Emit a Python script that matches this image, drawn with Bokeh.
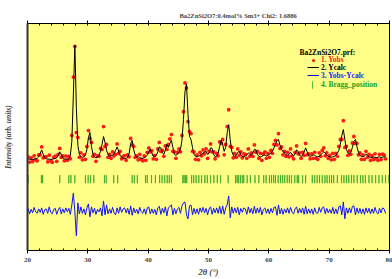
import numpy as np
from bokeh.plotting import figure
from bokeh.models import (Range1d, LinearAxis, FixedTicker, Label, Legend,
                          LegendItem, ColumnDataSource)
from bokeh.embed import file_html
from bokeh.resources import INLINE

# ---------------- data ----------------
two_theta_start = 20.10
two_theta_step = 0.25

y_calc = [
    100, 102, 100, 98,      # 20
    100, 105, 110, 125,     # 21
    160, 195, 150, 115,     # 22
    105, 100, 102, 100,     # 23
    100, 105, 108, 115,     # 24
    140, 175, 150, 115,     # 25
    105, 102, 100, 105,     # 26
    140, 280, 750, 1250,    # 27
    620, 240, 150, 125,     # 28
    120, 125, 140, 200,     # 29
    320, 370, 230, 150,     # 30
    125, 115, 120, 140,     # 31
    180, 250, 330, 270,     # 32
    190, 150, 130, 135,     # 33
    140, 155, 190, 225,     # 34
    185, 140, 120, 110,     # 35
    108, 110, 120, 160,     # 36
    260, 290, 200, 140,     # 37
    120, 125, 115, 110,     # 38
    110, 115, 125, 140,     # 39
    175, 205, 165, 130,     # 40
    125, 140, 175, 225,     # 41
    215, 165, 150, 195,     # 42
    250, 220, 260, 290,     # 43
    220, 150, 140, 150,     # 44
    170, 200, 290, 500,     # 45
    780, 860, 560, 330,     # 46
    300, 220, 150, 130,     # 47
    125, 130, 140, 150,     # 48
    160, 175, 180, 150,     # 49
    160, 215, 210, 150,     # 50
    125, 130, 160, 230,     # 51
    290, 250, 180, 220,     # 52
    370, 450, 300, 180,     # 53
    140, 130, 140, 170,     # 54
    180, 150, 130, 125,     # 55
    130, 145, 165, 150,     # 56
    140, 160, 200, 195,     # 57
    150, 130, 125, 130,     # 58
    140, 145, 135, 140,     # 59
    150, 165, 180, 215,     # 60
    250, 290, 300, 240,     # 61
    200, 180, 160, 150,     # 62
    140, 150, 170, 150,     # 63
    135, 150, 195, 180,     # 64
    140, 130, 140, 175,     # 65
    215, 175, 135, 130,     # 66
    135, 145, 140, 130,     # 67
    125, 130, 145, 160,     # 68
    175, 165, 140, 130,     # 69
    125, 120, 125, 130,     # 70
    140, 160, 190, 250,     # 71
    340, 400, 300, 200,     # 72
    165, 155, 170, 220,     # 73
    280, 300, 230, 170,     # 74
    140, 130, 125, 135,     # 75
    150, 140, 125, 120,     # 76
    118, 122, 120, 118,     # 77
    120, 125, 118, 122,     # 78
    125, 130,               # 79
]

# Yobs - Ycalc
residual = [
    25, -30, 15, -20,       # 20
    35, -10, -25, 20,       # 21
    -15, 30, -35, 10,       # 22
    20, -25, 40, -15,       # 23
    -30, 15, 25, -35,       # 24
    10, 35, -30, 20,        # 25
    -20, 30, -10, 25,       # 26
    -35, 60, 180, -10,      # 27
    -250, 80, -30, 40,      # 28
    -25, 20, -40, 30,       # 29
    70, -60, 40, -20,       # 30
    25, -35, 15, -10,       # 31
    30, -50, 100, -40,      # 32
    60, -30, 20, -25,       # 33
    35, -20, -40, 30,       # 34
    -25, 40, -15, 20,       # 35
    30, -20, 25, -35,       # 36
    50, -45, 30, -20,       # 37
    15, -30, 35, -10,       # 38
    -25, 20, -35, 30,       # 39
    40, -30, 20, -25,       # 40
    15, -40, 30, 45,        # 41
    -35, 25, -20, 40,       # 42
    -50, 30, 45, 60,        # 43
    -40, 25, -30, 20,       # 44
    35, -25, 50, 80,        # 45
    90, -40, -80, 50,       # 46
    60, -40, 25, -30,       # 47
    20, -35, 30, -15,       # 48
    35, -20, 25, -40,       # 49
    20, 40, -35, 25,        # 50
    -20, 30, -25, 45,       # 51
    -30, 50, -35, 30,       # 52
    60, 150, -70, 40,       # 53
    -25, 30, -20, 35,       # 54
    -40, 25, -15, 30,       # 55
    20, -35, 40, -20,       # 56
    25, -30, 45, -25,       # 57
    30, -20, 35, -40,       # 58
    15, 30, -25, 20,        # 59
    -30, 25, -20, 35,       # 60
    40, -45, 60, -30,       # 61
    25, -35, 20, -20,       # 62
    30, -25, 35, -15,       # 63
    -30, 20, 40, -25,       # 64
    25, -20, 30, -35,       # 65
    45, -30, 20, -25,       # 66
    20, -35, 30, -20,       # 67
    -25, 35, -15, 30,       # 68
    40, -30, 25, -20,       # 69
    15, -25, 35, -30,       # 70
    20, -30, 40, 50,        # 71
    -40, 90, -80, 30,       # 72
    -25, 30, -20, 45,       # 73
    50, -40, 30, -25,       # 74
    25, -30, 20, -35,       # 75
    30, -20, 25, -30,       # 76
    20, -25, 35, -15,       # 77
    -30, 25, -20, 30,       # 78
    20, -25,                # 79
]

bragg_positions = [
    20.1, 22.3, 22.5, 25.35, 26.85, 27.2, 27.85, 29.6, 30.05, 30.45, 31.0,
    32.75, 33.05, 34.3, 34.95, 37.35, 37.7, 38.2, 39.55, 39.85, 40.55, 41.2,
    41.9, 42.3, 42.75, 43.15, 43.5, 43.85, 45.75, 45.95, 46.2, 46.4, 47.2,
    47.55, 47.95, 48.4, 48.85, 49.4, 49.8, 50.35, 50.9, 51.45, 52.0, 53.25,
    54.5, 54.75, 55.0, 55.3, 55.6, 55.85, 56.4, 56.95, 57.7, 58.35, 59.15,
    59.55, 60.1, 60.45, 60.8, 61.1, 61.55, 61.95, 62.3, 62.65, 63.05, 63.4,
    63.75, 64.3, 64.7, 64.95, 65.6, 66.1, 67.2, 67.6, 68.0, 68.4, 68.85,
    69.3, 69.65, 70.05, 70.4, 70.75, 71.35, 72.05, 72.45, 72.85, 73.25,
    73.7, 74.1, 74.65, 75.2, 75.6, 76.0, 76.6, 77.1, 77.7, 78.25, 78.8,
    79.35, 79.9,
]

diff_offset = -420
bragg_bottom = -140
bragg_top = -60
x_ticks = [20, 30, 40, 50, 60, 70, 80]
x_minor_ticks = [22, 24, 26, 28, 32, 34, 36, 38, 42, 44, 46, 48, 52, 54, 56,
                 58, 62, 64, 66, 68, 72, 74, 76, 78]

title_text = "Ba2ZnSi2O7:0.4mol% Sm3+   Chi2:  1.6886"
legend_title = "Ba2ZnSi2O7.prf:"
series_labels = ["1. Yobs", "2. Ycalc", "3. Yobs-Ycalc", "4. Bragg_position"]

# ---------------- derived columns ----------------
two_theta = two_theta_start + two_theta_step * np.arange(len(y_calc))
y_calc_a = np.array(y_calc, dtype=float)
resid_a = np.array(residual, dtype=float)
y_obs = y_calc_a + resid_a
y_diff = resid_a + diff_offset

src = ColumnDataSource(dict(x=two_theta, yobs=y_obs, ycalc=y_calc_a, ydiff=y_diff))
bragg_src = ColumnDataSource(dict(x=bragg_positions,
                                  b=[bragg_bottom] * len(bragg_positions),
                                  t=[bragg_top] * len(bragg_positions)))

SERIF = "Liberation Serif"

p = figure(width=392, height=279, x_range=Range1d(20, 80), y_range=Range1d(-820, 1470),
           output_backend="svg", toolbar_location=None,
           min_border_left=26, min_border_right=3, min_border_top=23, min_border_bottom=27,
           background_fill_color="#FFFF88", border_fill_color="white")
p.xgrid.visible = False
p.ygrid.visible = False
p.outline_line_color = "black"
p.outline_line_width = 1

p.title.text = title_text
p.title.align = "left"
p.title.offset = 152
p.title.standoff = 4
p.title.text_font = SERIF
p.title.text_font_style = "bold"
p.title.text_font_size = "6.5px"

ticker = FixedTicker(ticks=x_ticks, minor_ticks=x_minor_ticks)
xa = p.xaxis[0]
xa.ticker = ticker
xa.major_tick_out = 3
xa.major_tick_in = 2
xa.minor_tick_out = 0
xa.minor_tick_in = 2
xa.major_label_standoff = 4
xa.major_label_text_font = SERIF
xa.major_label_text_font_style = "bold"
xa.major_label_text_font_size = "7px"
xa.axis_label = "2θ (°)"
xa.axis_label_text_font = SERIF
xa.axis_label_text_font_style = "bold italic"
xa.axis_label_text_font_size = "8.5px"
xa.axis_label_standoff = 2

ya = p.yaxis[0]
ya.ticker = FixedTicker(ticks=[])
ya.major_tick_out = 0
ya.major_tick_in = 0
ya.minor_tick_out = 0
ya.minor_tick_in = 0
ya.major_label_standoff = 0
ya.axis_line_width = 2
ya.axis_line_color = "#333333"
ya.axis_label = "Intensity (arb. units)"
ya.axis_label_text_font = SERIF
ya.axis_label_text_font_style = "bold italic"
ya.axis_label_text_font_size = "7.5px"
ya.axis_label_standoff = 15

top_axis = LinearAxis(ticker=FixedTicker(ticks=x_ticks, minor_ticks=x_minor_ticks),
                      major_tick_out=3, major_tick_in=2, minor_tick_out=0, minor_tick_in=2,
                      major_label_overrides={t: "" for t in x_ticks},
                      major_label_standoff=0)
p.add_layout(top_axis, "above")

# ---------------- glyphs ----------------
r_bragg = p.vbar(x="x", width=0.03, bottom="b", top="t", source=bragg_src,
                 fill_color="#2aa01a", line_color="#2aa01a", alpha=0.65, line_width=1)
r_diff = p.line("x", "ydiff", source=src, line_color="#1010ff", line_width=1)
r_obs = p.scatter("x", "yobs", source=src, marker="circle", size=3.8,
                  fill_color="#ff1a1a", line_color=None)
r_calc = p.line("x", "ycalc", source=src, line_color="black", line_width=1)

# ---------------- legend ----------------
leg_specs = [
    # label, text colour, renderer, left, bottom, glyph width, glyph height, standoff
    (series_labels[0], "#ff2020", r_obs, 280, 186, 12, 8, 2),
    (series_labels[1], "black", r_calc, 280, 178.5, 12, 8, 2),
    (series_labels[2], "#2020ff", r_diff, 280, 170.5, 12, 8, 2),
    (series_labels[3], "#22a022", r_bragg, 285, 161.5, 1, 9, 8),
]
for lab, col, rend, vx, vy, gw, gh, so in leg_specs:
    lg = Legend(items=[LegendItem(label=lab, renderers=[rend])], location=(vx, vy),
                glyph_width=gw, glyph_height=gh, label_height=gh, label_standoff=so,
                padding=0, margin=0, spacing=0, border_line_alpha=0,
                background_fill_alpha=0, label_text_font=SERIF,
                label_text_font_style="bold", label_text_font_size="7.5px",
                label_text_color=col)
    p.add_layout(lg)

p.add_layout(Label(x=272, y=198, x_units="screen", y_units="screen", text=legend_title,
                   text_font=SERIF, text_font_style="bold", text_font_size="7.5px",
                   text_baseline="middle", text_color="black"))

open("out.html", "w").write(file_html(p, INLINE))
